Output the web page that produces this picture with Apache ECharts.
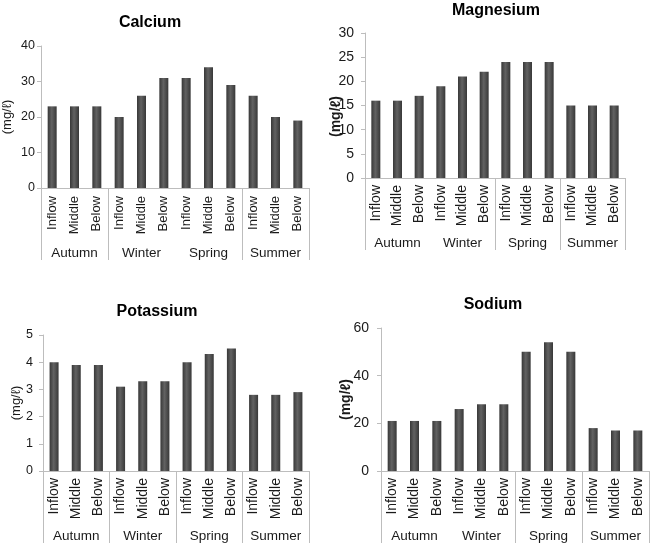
<!DOCTYPE html>
<html>
<head>
<meta charset="utf-8">
<script src="https://cdn.jsdelivr.net/npm/echarts@6/dist/echarts.min.js"></script>
<style>
html, body { margin: 0; padding: 0; background: #fff; }
#chart { width: 651px; height: 552px; }
</style>
</head>
<body>
<div id="chart"></div>
<script>
// categories: season groups and sampling sites
const seasons = ['Autumn', 'Winter', 'Spring', 'Summer']
const sites = ['Inflow', 'Middle', 'Below']
const categories = seasons.flatMap(() => sites)

// values (mg/l), order follows categories
const calcium = [23, 23, 23, 20, 26, 31, 31, 34, 29, 26, 20, 19]
const magnesium = [16, 16, 17, 19, 21, 22, 24, 24, 24, 15, 15, 15]
const potassium = [4.0, 3.9, 3.9, 3.1, 3.3, 3.3, 4.0, 4.3, 4.5, 2.8, 2.8, 2.9]
const sodium = [21, 21, 21, 26, 28, 28, 50, 54, 50, 18, 17, 17]

// y tick labels
const calciumTicks = [0, 10, 20, 30, 40]
const magnesiumTicks = [0, 5, 10, 15, 20, 25, 30]
const potassiumTicks = [0, 1, 2, 3, 4, 5]
const sodiumTicks = [0, 20, 40, 60]

const FONT = 'Liberation Sans, Arial, sans-serif'
const TEXT = '#1a1a1a'
const AXIS = '#bdbdbd'

// layout per panel (breaks = season boundaries that get a divider line)
const panels = [
    { title: 'Calcium', data: calcium, ticks: calciumTicks, breaks: [0, 1, 3],
      grid: { left: 38, top: 46, width: 271, height: 142 }, titleAt: [150, 23],
      yFont: 12.5, yMargin: 6, catFont: 13, catMargin: 8,
      nameGap: 27, nameFont: 13, nameBold: false, namePad: [0, 0, 0, 0] },
    { title: 'Magnesium', data: magnesium, ticks: magnesiumTicks, breaks: [0, 2, 3],
      grid: { left: 365, top: 33, width: 260, height: 145 }, titleAt: [496, 11],
      yFont: 14, yMargin: 11, catFont: 14, catMargin: 7,
      nameGap: 22, nameFont: 14, nameBold: true, namePad: [0, 22, 0, 0] },
    { title: 'Potassium', data: potassium, ticks: potassiumTicks, breaks: [0, 1, 2, 3],
      grid: { left: 43, top: 335, width: 266, height: 136 }, titleAt: [157, 312],
      yFont: 12.5, yMargin: 10, catFont: 14, catMargin: 7,
      nameGap: 20, nameFont: 13, nameBold: false, namePad: [0, 0, 0, 0] },
    { title: 'Sodium', data: sodium, ticks: sodiumTicks, breaks: [0, 2, 3],
      grid: { left: 381, top: 328, width: 268, height: 143 }, titleAt: [493, 305],
      yFont: 14, yMargin: 12, catFont: 14, catMargin: 7,
      nameGap: 28, nameFont: 14, nameBold: true, namePad: [0, 0, 0, 0] }
]

const barColor = {
    type: 'linear', x: 0, y: 0, x2: 1, y2: 0,
    colorStops: [
        { offset: 0, color: '#383838' },
        { offset: 0.45, color: '#626262' },
        { offset: 1, color: '#383838' }
    ]
}

const grid = []
const xAxis = []
const yAxis = []
const series = []
const graphic = []

panels.forEach((p, i) => {
    grid.push(Object.assign({ containLabel: false }, p.grid))

    // site level
    xAxis.push({
        type: 'category',
        gridIndex: i,
        position: 'bottom',
        data: categories,
        axisLine: { lineStyle: { color: AXIS, width: 1 } },
        axisTick: { show: false },
        axisLabel: {
            interval: 0, rotate: 90, margin: p.catMargin,
            fontSize: p.catFont, fontFamily: FONT, color: TEXT
        },
        splitLine: { show: false }
    })
    // season level
    xAxis.push({
        type: 'category',
        gridIndex: i,
        position: 'bottom',
        data: seasons,
        axisLine: { show: false },
        axisTick: {
            show: true, length: 72,
            interval: idx => p.breaks.indexOf(idx) > -1,
            lineStyle: { color: AXIS, width: 1 }
        },
        axisLabel: {
            interval: 0, margin: 58,
            fontSize: 13.5, fontFamily: FONT, color: TEXT
        },
        splitLine: { show: false }
    })

    yAxis.push({
        type: 'value',
        gridIndex: i,
        min: p.ticks[0],
        max: p.ticks[p.ticks.length - 1],
        interval: p.ticks[1] - p.ticks[0],
        name: '(mg/ℓ)',
        nameLocation: 'middle',
        nameGap: p.nameGap,
        nameMoveOverlap: false,
        nameTextStyle: {
            fontSize: p.nameFont, fontFamily: FONT, color: TEXT,
            fontWeight: p.nameBold ? 'bold' : 'normal',
            padding: p.namePad
        },
        axisLine: { show: true, lineStyle: { color: AXIS, width: 1 } },
        axisTick: { show: true, length: 4, lineStyle: { color: AXIS } },
        axisLabel: { margin: p.yMargin, fontSize: p.yFont, fontFamily: FONT, color: TEXT },
        splitLine: { show: false }
    })

    series.push({
        name: p.title,
        type: 'bar',
        xAxisIndex: i * 2,
        yAxisIndex: i,
        barWidth: 9,
        data: p.data,
        itemStyle: { color: barColor },
        silent: true
    })

    graphic.push({
        type: 'text',
        x: p.titleAt[0],
        y: p.titleAt[1],
        style: {
            text: p.title,
            fontSize: 16,
            fontWeight: 'bold',
            fontFamily: FONT,
            fill: '#000',
            align: 'center',
            verticalAlign: 'middle'
        }
    })
})

const myChart = echarts.init(document.getElementById('chart'), null, { renderer: 'canvas' })
myChart.setOption({
    animation: false,
    backgroundColor: '#fff',
    grid: grid,
    xAxis: xAxis,
    yAxis: yAxis,
    series: series,
    graphic: graphic
})
</script>
</body>
</html>
